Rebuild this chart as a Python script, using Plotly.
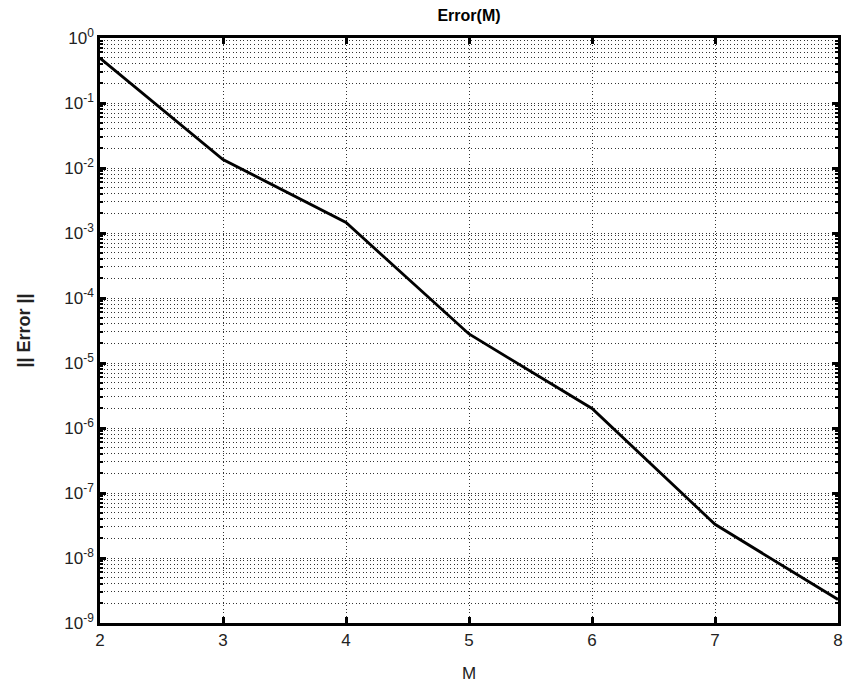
import plotly.graph_objects as go

M = [2, 3, 4, 5, 6, 7, 8]
error_norm = [0.49, 0.0135, 0.00145, 2.8e-5, 2.0e-6, 3.3e-8, 2.3e-9]

y_exponents = list(range(-9, 1))
y_ticktext = [f"10<sup>{e}</sup>" for e in y_exponents]
x_ticks = [2, 3, 4, 5, 6, 7, 8]

minor_vals = [k * 10.0 ** e for e in range(-9, 0) for k in range(2, 10)]

fig = go.Figure()
fig.add_trace(go.Scatter(x=M, y=error_norm, mode="lines",
                         line=dict(color="black", width=2.8), showlegend=False))

font = dict(family="Liberation Sans, Arial, sans-serif", size=17, color="#222")
grid_color = "#333"
grid_dash = "1px,2.5px"

fig.update_layout(
    width=849, height=686,
    margin=dict(l=100, r=6, t=38, b=60),
    paper_bgcolor="white", plot_bgcolor="white",
    font=font,
    title=dict(text="<b>Error(M)</b>", x=0.5, xref="paper", xanchor="center",
               y=1 - 15 / 686, yanchor="middle", font=dict(size=16, color="black")),
)

fig.update_xaxes(
    range=[2, 8], tickvals=x_ticks, ticktext=[str(v) for v in x_ticks],
    showline=True, linecolor="black", linewidth=2.5, mirror="ticks",
    ticks="inside", ticklen=6, tickwidth=2.5, tickcolor="black",
    showgrid=True, gridcolor=grid_color, griddash=grid_dash, gridwidth=1,
    zeroline=False,
    title=dict(text="M", font=dict(size=17, color="#222"), standoff=18),
    tickfont=dict(size=17, color="#222"),
)

fig.update_yaxes(
    type="log", range=[-9, 0],
    tickvals=[10.0 ** e for e in y_exponents], ticktext=y_ticktext,
    showline=True, linecolor="black", linewidth=2.5, mirror="ticks",
    ticks="inside", ticklen=6, tickwidth=2.5, tickcolor="black",
    showgrid=True, gridcolor=grid_color, griddash=grid_dash, gridwidth=1,
    zeroline=False,
    minor=dict(tickvals=minor_vals, ticks="inside", ticklen=3, tickwidth=1.5,
               tickcolor="black", showgrid=True, gridcolor=grid_color,
               griddash=grid_dash, gridwidth=1),
    title=dict(text="<b>|| Error ||</b>", font=dict(size=18, color="#222"), standoff=30),
    tickfont=dict(size=17, color="#222"),
)

fig.write_html("out.html")
